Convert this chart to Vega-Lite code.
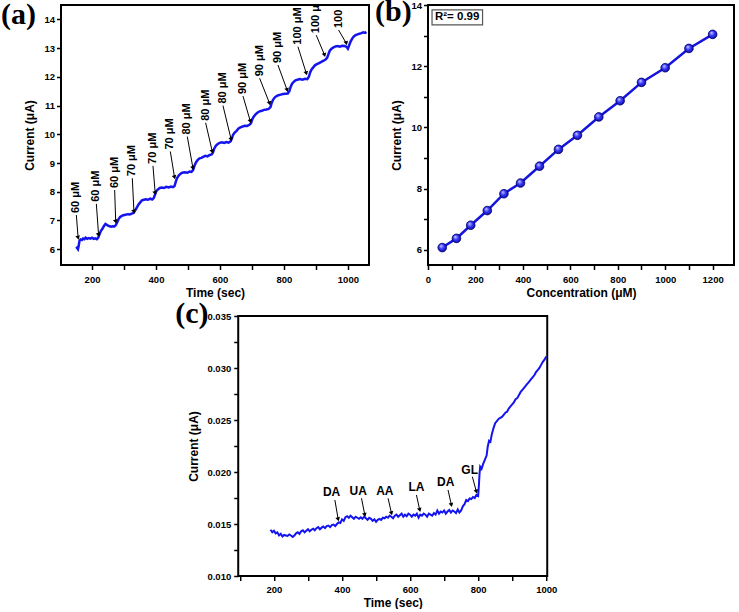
{
  "$schema": "https://vega.github.io/schema/vega-lite/v6.json",
  "padding": {"top": -5, "left": 0, "right": 0, "bottom": 0},
  "config": {
    "font": "Liberation Sans",
    "view": {"stroke": "black", "strokeWidth": 2},
    "axis": {"domain": false, "grid": false, "labelFont": "Liberation Sans", "labelFontSize": 9.5, "labelFontWeight": "bold", "labelColor": "black", "labelFlush": false, "labelOverlap": false, "titleFont": "Liberation Sans", "titleFontSize": 12, "titleFontWeight": "bold", "titleColor": "black", "tickColor": "black", "tickWidth": 1.5, "tickSize": 4.5},
    "axisX": {"labelPadding": 5, "titlePadding": 3},
    "axisY": {"labelPadding": 2, "titlePadding": 7},
    "title": {"font": "Liberation Serif", "fontSize": 30, "fontWeight": "bold", "color": "black", "anchor": "start", "frame": "group", "baseline": "top", "offset": 0}
  },
  "datasets": {
    "curveA": [
      {"t":150,"i":6.02},{"t":153,"i":6.05},{"t":156,"i":6.0},{"t":158,"i":6.1},{"t":161,"i":6.3},{"t":164,"i":6.34},{"t":168,"i":6.32},{"t":172,"i":6.37},{"t":176,"i":6.35},{"t":180,"i":6.4},{"t":185,"i":6.36},{"t":190,"i":6.39},{"t":195,"i":6.37},{"t":200,"i":6.4},{"t":205,"i":6.36},{"t":210,"i":6.38},{"t":215,"i":6.35},{"t":219,"i":6.4},
      {"t":223,"i":6.5},{"t":227,"i":6.62},{"t":232,"i":6.7},{"t":237,"i":6.8},{"t":242,"i":6.88},{"t":246,"i":6.85},{"t":250,"i":6.82},{"t":255,"i":6.8},{"t":260,"i":6.78},{"t":265,"i":6.8},{"t":270,"i":6.79},{"t":274,"i":6.83},
      {"t":278,"i":6.92},{"t":283,"i":7.05},{"t":288,"i":7.12},{"t":293,"i":7.16},{"t":298,"i":7.18},{"t":305,"i":7.2},{"t":312,"i":7.22},{"t":318,"i":7.21},{"t":324,"i":7.24},{"t":330,"i":7.26},
      {"t":335,"i":7.35},{"t":340,"i":7.45},{"t":345,"i":7.55},{"t":350,"i":7.62},{"t":356,"i":7.7},{"t":362,"i":7.72},{"t":368,"i":7.74},{"t":375,"i":7.72},{"t":382,"i":7.76},{"t":388,"i":7.73},{"t":393,"i":7.78},
      {"t":397,"i":7.9},{"t":401,"i":8.02},{"t":406,"i":8.08},{"t":412,"i":8.13},{"t":418,"i":8.15},{"t":425,"i":8.13},{"t":432,"i":8.17},{"t":440,"i":8.15},{"t":447,"i":8.18},{"t":453,"i":8.16},{"t":458,"i":8.2},
      {"t":462,"i":8.35},{"t":466,"i":8.48},{"t":471,"i":8.56},{"t":476,"i":8.62},{"t":482,"i":8.66},{"t":490,"i":8.68},{"t":498,"i":8.66},{"t":505,"i":8.7},{"t":511,"i":8.69},{"t":516,"i":8.75},
      {"t":520,"i":8.9},{"t":525,"i":9.02},{"t":530,"i":9.1},{"t":536,"i":9.16},{"t":542,"i":9.18},{"t":549,"i":9.22},{"t":555,"i":9.25},{"t":561,"i":9.23},{"t":568,"i":9.28},{"t":574,"i":9.3},
      {"t":578,"i":9.36},{"t":582,"i":9.5},{"t":587,"i":9.6},{"t":593,"i":9.66},{"t":599,"i":9.7},{"t":606,"i":9.72},{"t":613,"i":9.7},{"t":620,"i":9.73},{"t":627,"i":9.71},{"t":633,"i":9.75},
      {"t":637,"i":9.85},{"t":641,"i":9.98},{"t":646,"i":10.06},{"t":652,"i":10.12},{"t":658,"i":10.2},{"t":664,"i":10.24},{"t":671,"i":10.27},{"t":678,"i":10.3},{"t":685,"i":10.29},{"t":692,"i":10.33},
      {"t":697,"i":10.38},{"t":701,"i":10.52},{"t":706,"i":10.62},{"t":712,"i":10.7},{"t":718,"i":10.76},{"t":724,"i":10.8},{"t":731,"i":10.82},{"t":738,"i":10.85},{"t":745,"i":10.86},{"t":752,"i":10.88},
      {"t":758,"i":10.95},{"t":762,"i":11.1},{"t":766,"i":11.2},{"t":771,"i":11.28},{"t":777,"i":11.33},{"t":783,"i":11.36},{"t":790,"i":11.38},{"t":797,"i":11.4},{"t":805,"i":11.41},{"t":812,"i":11.42},
      {"t":817,"i":11.5},{"t":821,"i":11.65},{"t":825,"i":11.75},{"t":830,"i":11.82},{"t":836,"i":11.88},{"t":842,"i":11.9},{"t":850,"i":11.92},{"t":858,"i":11.9},{"t":866,"i":11.93},{"t":873,"i":11.92},
      {"t":878,"i":12.0},{"t":882,"i":12.15},{"t":886,"i":12.25},{"t":891,"i":12.32},{"t":897,"i":12.4},{"t":903,"i":12.44},{"t":910,"i":12.48},{"t":917,"i":12.52},{"t":924,"i":12.56},{"t":930,"i":12.6},
      {"t":935,"i":12.66},{"t":939,"i":12.78},{"t":943,"i":12.9},{"t":948,"i":12.97},{"t":954,"i":13.02},{"t":961,"i":13.06},{"t":968,"i":13.07},{"t":975,"i":13.05},{"t":982,"i":13.08},{"t":990,"i":13.07},{"t":996,"i":13.04},
      {"t":1000,"i":12.98},{"t":1004,"i":13.1},{"t":1008,"i":13.22},{"t":1013,"i":13.32},{"t":1018,"i":13.4},{"t":1024,"i":13.45},{"t":1030,"i":13.48},{"t":1036,"i":13.5},{"t":1042,"i":13.52},{"t":1048,"i":13.55},{"t":1054,"i":13.53},{"t":1058,"i":13.56}
    ],
    "arrowsA": [
      {"t0":151,"v0":7.19,"t1":156.5,"v1":6.4,"label":"60 μM"},
      {"t0":213.5,"v0":7.58,"t1":220.5,"v1":6.5,"label":"60 μM"},
      {"t0":270.8,"v0":8.06,"t1":274,"v1":6.96,"label":"60 μM"},
      {"t0":326,"v0":8.47,"t1":331,"v1":7.31,"label":"70 μM"},
      {"t0":390.6,"v0":8.9,"t1":397.5,"v1":7.95,"label":"70 μM"},
      {"t0":444.8,"v0":9.4,"t1":458,"v1":8.5,"label":"70 μM"},
      {"t0":497.9,"v0":9.92,"t1":515.6,"v1":8.82,"label":"80 μM"},
      {"t0":555.2,"v0":10.4,"t1":576,"v1":9.4,"label":"80 μM"},
      {"t0":609.4,"v0":11.0,"t1":635,"v1":9.82,"label":"80 μM"},
      {"t0":672,"v0":11.33,"t1":695,"v1":10.45,"label":"90 μM"},
      {"t0":724,"v0":11.95,"t1":755,"v1":11.08,"label":"90 μM"},
      {"t0":781.3,"v0":12.41,"t1":810,"v1":11.54,"label":"90 μM"},
      {"t0":843.8,"v0":13.05,"t1":870,"v1":12.12,"label":"100 μM"},
      {"t0":901,"v0":13.45,"t1":927,"v1":12.76,"label":"100 μM"},
      {"t0":970.8,"v0":13.63,"t1":995,"v1":13.17,"label":"100 μM"}
    ],
    "calib": [
      {"c":60,"i":6.07},{"c":120,"i":6.37},{"c":180,"i":6.8},{"c":250,"i":7.28},{"c":320,"i":7.83},{"c":390,"i":8.18},{"c":470,"i":8.73},{"c":550,"i":9.28},{"c":630,"i":9.74},{"c":720,"i":10.34},{"c":810,"i":10.87},{"c":900,"i":11.47},{"c":1000,"i":11.95},{"c":1100,"i":12.58},{"c":1200,"i":13.04}
    ],
    "r2": [{"x1":17,"x2":230,"y1":13.35,"y2":13.84,"xm":123,"ym":13.6,"label":"R²= 0.99"}],
    "curveC": [
      {"t":190,"i":0.01445},{"t":195,"i":0.0142},{"t":200,"i":0.01435},{"t":205,"i":0.0141},{"t":210,"i":0.0142},{"t":215,"i":0.0139},{"t":220,"i":0.01405},{"t":225,"i":0.0138},{"t":230,"i":0.01395},{"t":235,"i":0.0139},{"t":240,"i":0.01385},{"t":245,"i":0.014},{"t":250,"i":0.0139},{"t":255,"i":0.01375},{"t":260,"i":0.0139},{"t":265,"i":0.0141},{"t":270,"i":0.0142},{"t":275,"i":0.01405},{"t":280,"i":0.0143},{"t":285,"i":0.0144},{"t":290,"i":0.0142},{"t":295,"i":0.01435},{"t":300,"i":0.0145},{"t":305,"i":0.0143},{"t":310,"i":0.01445},{"t":315,"i":0.01455},{"t":320,"i":0.0144},{"t":325,"i":0.0146},{"t":330,"i":0.0147},{"t":335,"i":0.0145},{"t":340,"i":0.01465},{"t":345,"i":0.01475},{"t":350,"i":0.0146},{"t":355,"i":0.0148},{"t":360,"i":0.01485},{"t":365,"i":0.0147},{"t":370,"i":0.0149},{"t":375,"i":0.01495},{"t":380,"i":0.0148},{"t":385,"i":0.015},{"t":390,"i":0.01515},{"t":395,"i":0.0151},{"t":400,"i":0.01545},{"t":405,"i":0.0153},{"t":410,"i":0.01565},{"t":415,"i":0.01575},{"t":420,"i":0.0156},{"t":425,"i":0.0158},{"t":430,"i":0.01565},{"t":435,"i":0.0155},{"t":440,"i":0.0157},{"t":445,"i":0.0156},{"t":450,"i":0.0155},{"t":455,"i":0.01565},{"t":460,"i":0.0155},{"t":465,"i":0.0157},{"t":470,"i":0.01555},{"t":475,"i":0.0154},{"t":480,"i":0.0156},{"t":485,"i":0.0155},{"t":490,"i":0.0153},{"t":495,"i":0.01545},{"t":500,"i":0.0152},{"t":505,"i":0.0154},{"t":510,"i":0.0155},{"t":515,"i":0.0154},{"t":520,"i":0.0156},{"t":525,"i":0.01555},{"t":530,"i":0.0157},{"t":535,"i":0.0156},{"t":540,"i":0.0158},{"t":545,"i":0.0157},{"t":550,"i":0.01555},{"t":555,"i":0.0158},{"t":560,"i":0.0159},{"t":565,"i":0.0157},{"t":570,"i":0.01585},{"t":575,"i":0.016},{"t":580,"i":0.0157},{"t":585,"i":0.0159},{"t":590,"i":0.01575},{"t":595,"i":0.016},{"t":600,"i":0.0159},{"t":605,"i":0.0157},{"t":610,"i":0.0159},{"t":615,"i":0.0158},{"t":620,"i":0.016},{"t":625,"i":0.0156},{"t":630,"i":0.0159},{"t":635,"i":0.0158},{"t":640,"i":0.016},{"t":645,"i":0.0159},{"t":650,"i":0.0157},{"t":655,"i":0.016},{"t":660,"i":0.0159},{"t":665,"i":0.0158},{"t":670,"i":0.01605},{"t":675,"i":0.0159},{"t":680,"i":0.0163},{"t":685,"i":0.016},{"t":690,"i":0.0162},{"t":695,"i":0.0161},{"t":700,"i":0.0163},{"t":705,"i":0.016},{"t":710,"i":0.0162},{"t":715,"i":0.01635},{"t":720,"i":0.0161},{"t":725,"i":0.0163},{"t":730,"i":0.0162},{"t":735,"i":0.01605},{"t":740,"i":0.0164},{"t":745,"i":0.0161},{"t":750,"i":0.0163},{"t":755,"i":0.0167},{"t":760,"i":0.0169},{"t":765,"i":0.0173},{"t":770,"i":0.0172},{"t":775,"i":0.01745},{"t":780,"i":0.0174},{"t":785,"i":0.0176},{"t":790,"i":0.0175},{"t":795,"i":0.0178},{"t":800,"i":0.0177},{"t":802,"i":0.0186},{"t":804,"i":0.0198},{"t":806,"i":0.0205},{"t":810,"i":0.0203},{"t":815,"i":0.0208},{"t":820,"i":0.0212},{"t":825,"i":0.0216},{"t":828,"i":0.0224},{"t":832,"i":0.023},{"t":836,"i":0.0229},{"t":840,"i":0.0236},{"t":845,"i":0.0242},{"t":850,"i":0.0247},{"t":855,"i":0.0249},{"t":860,"i":0.0251},{"t":865,"i":0.0252},{"t":870,"i":0.0253},{"t":875,"i":0.0255},{"t":880,"i":0.0257},{"t":885,"i":0.0258},{"t":890,"i":0.0261},{"t":895,"i":0.0263},{"t":900,"i":0.0265},{"t":905,"i":0.0267},{"t":910,"i":0.027},{"t":915,"i":0.0271},{"t":920,"i":0.0274},{"t":925,"i":0.0277},{"t":930,"i":0.0279},{"t":935,"i":0.0281},{"t":940,"i":0.0283},{"t":945,"i":0.0285},{"t":950,"i":0.0287},{"t":955,"i":0.0289},{"t":960,"i":0.0291},{"t":965,"i":0.0293},{"t":970,"i":0.0296},{"t":975,"i":0.0298},{"t":980,"i":0.03},{"t":985,"i":0.0303},{"t":990,"i":0.0306},{"t":995,"i":0.0308},{"t":1000,"i":0.0311}
    ],
    "arrowsC": [
      {"tx":369.3,"ty":0.01805,"t0":379,"v0":0.01731,"t1":388.7,"v1":0.01545,"label":"DA"},
      {"tx":447.4,"ty":0.01821,"t0":457.3,"v0":0.01747,"t1":467,"v1":0.01587,"label":"UA"},
      {"tx":525.7,"ty":0.01821,"t0":535.4,"v0":0.01747,"t1":545.4,"v1":0.01603,"label":"AA"},
      {"tx":618.7,"ty":0.01859,"t0":618.7,"v0":0.01779,"t1":628.4,"v1":0.01635,"label":"LA"},
      {"tx":704.7,"ty":0.01907,"t0":711.5,"v0":0.01827,"t1":721.4,"v1":0.01683,"label":"DA"},
      {"tx":775.1,"ty":0.02019,"t0":783,"v0":0.01955,"t1":794.8,"v1":0.01811,"label":"GL"}
    ]
  },
  "vconcat": [
    {
      "hconcat": [
        {
          "width": 308, "height": 260,
          "title": {"text": "(a)", "dx": -60, "dy": 29},
          "layer": [
            {
              "data": {"name": "curveA"},
              "mark": {"type": "line", "color": "#1414ee", "strokeWidth": 2.5},
              "encoding": {
                "x": {"field": "t", "type": "quantitative", "scale": {"domain": [103, 1066], "nice": false, "zero": false}, "axis": {"title": "Time (sec)", "values": [200,300,400,500,600,700,800,900,1000], "format": "d", "labelOverlap": false, "labelExpr": "datum.value % 200 == 0 ? datum.label : ''"}},
                "y": {"field": "i", "type": "quantitative", "scale": {"domain": [5.45, 14.5], "nice": false, "zero": false}, "axis": {"title": "Current (μA)", "values": [6,7,8,9,10,11,12,13,14], "format": "d", "labelOverlap": false}}
              }
            },
            {
              "data": {"name": "arrowsA"},
              "mark": {"type": "rule", "color": "black", "strokeWidth": 1},
              "encoding": {
                "x": {"field": "t0", "type": "quantitative", "axis": {"title": "Time (sec)", "values": [200,300,400,500,600,700,800,900,1000], "format": "d", "labelOverlap": false, "labelExpr": "datum.value % 200 == 0 ? datum.label : ''"}},
                "y": {"field": "v0", "type": "quantitative", "axis": {"title": "Current (μA)", "values": [6,7,8,9,10,11,12,13,14], "format": "d", "labelOverlap": false}},
                "x2": {"field": "t1"}, "y2": {"field": "v1"}
              }
            },
            {
              "data": {"name": "arrowsA"},
              "mark": {"type": "point", "shape": "triangle-down", "filled": true, "color": "black", "size": 22, "angle": 345, "opacity": 1},
              "encoding": {
                "x": {"field": "t1", "type": "quantitative", "axis": {"title": "Time (sec)", "values": [200,300,400,500,600,700,800,900,1000], "format": "d", "labelOverlap": false, "labelExpr": "datum.value % 200 == 0 ? datum.label : ''"}},
                "y": {"field": "v1", "type": "quantitative", "axis": {"title": "Current (μA)", "values": [6,7,8,9,10,11,12,13,14], "format": "d", "labelOverlap": false}}
              }
            },
            {
              "data": {"name": "arrowsA"},
              "mark": {"type": "text", "angle": 270, "align": "left", "baseline": "middle", "dx": 2, "fontSize": 11, "fontWeight": "bold", "font": "Liberation Sans", "color": "black", "clip": true},
              "encoding": {
                "x": {"field": "t0", "type": "quantitative", "axis": {"title": "Time (sec)", "values": [200,300,400,500,600,700,800,900,1000], "format": "d", "labelOverlap": false, "labelExpr": "datum.value % 200 == 0 ? datum.label : ''"}},
                "y": {"field": "v0", "type": "quantitative", "axis": {"title": "Current (μA)", "values": [6,7,8,9,10,11,12,13,14], "format": "d", "labelOverlap": false}},
                "text": {"field": "label"}
              }
            }
          ]
        },
        {
          "width": 306, "height": 260,
          "title": {"text": "(b)", "dx": -53, "dy": 30.5},
          "layer": [
            {
              "data": {"name": "calib"},
              "mark": {"type": "line", "color": "#1414dd", "strokeWidth": 2.5},
              "encoding": {
                "x": {"field": "c", "type": "quantitative", "scale": {"domain": [0, 1290], "nice": false}, "axis": {"title": "Concentration (μM)", "values": [0,100,200,300,400,500,600,700,800,900,1000,1100,1200], "format": "d", "labelOverlap": false, "labelExpr": "datum.value % 200 == 0 ? datum.label : ''"}},
                "y": {"field": "i", "type": "quantitative", "scale": {"domain": [5.5, 14], "nice": false, "zero": false}, "axis": {"title": "Current (μA)", "values": [6,7,8,9,10,11,12,13,14], "format": "d", "labelOverlap": false, "labelExpr": "datum.value % 2 == 0 ? datum.label : ''"}}
              }
            },
            {
              "data": {"name": "r2"},
              "mark": {"type": "rect", "fill": "white", "stroke": "#555555", "strokeWidth": 1.2},
              "encoding": {
                "x": {"field": "x1", "type": "quantitative", "axis": {"title": "Concentration (μM)", "values": [0,100,200,300,400,500,600,700,800,900,1000,1100,1200], "format": "d", "labelOverlap": false, "labelExpr": "datum.value % 200 == 0 ? datum.label : ''"}},
                "x2": {"field": "x2"},
                "y": {"field": "y1", "type": "quantitative", "axis": {"title": "Current (μA)", "values": [6,7,8,9,10,11,12,13,14], "format": "d", "labelOverlap": false, "labelExpr": "datum.value % 2 == 0 ? datum.label : ''"}},
                "y2": {"field": "y2"}
              }
            },
            {
              "data": {"name": "r2"},
              "mark": {"type": "text", "fontSize": 11.5, "fontWeight": "bold", "font": "Liberation Sans", "color": "black", "align": "center", "baseline": "middle"},
              "encoding": {
                "x": {"field": "xm", "type": "quantitative", "axis": {"title": "Concentration (μM)", "values": [0,100,200,300,400,500,600,700,800,900,1000,1100,1200], "format": "d", "labelOverlap": false, "labelExpr": "datum.value % 200 == 0 ? datum.label : ''"}},
                "y": {"field": "ym", "type": "quantitative", "axis": {"title": "Current (μA)", "values": [6,7,8,9,10,11,12,13,14], "format": "d", "labelOverlap": false, "labelExpr": "datum.value % 2 == 0 ? datum.label : ''"}},
                "text": {"field": "label"}
              }
            },
            {
              "data": {"name": "calib"},
              "mark": {"type": "point", "shape": "circle", "size": 75, "opacity": 1, "strokeWidth": 0.8, "stroke": "#00006a", "fill": {"gradient": "radial", "x1": 0.35, "y1": 0.3, "r1": 0, "x2": 0.5, "y2": 0.5, "r2": 0.6, "stops": [{"offset": 0, "color": "#d8d8ff"}, {"offset": 0.45, "color": "#3a3aff"}, {"offset": 1, "color": "#00008a"}]}},
              "encoding": {
                "x": {"field": "c", "type": "quantitative", "axis": {"title": "Concentration (μM)", "values": [0,100,200,300,400,500,600,700,800,900,1000,1100,1200], "format": "d", "labelOverlap": false, "labelExpr": "datum.value % 200 == 0 ? datum.label : ''"}},
                "y": {"field": "i", "type": "quantitative", "axis": {"title": "Current (μA)", "values": [6,7,8,9,10,11,12,13,14], "format": "d", "labelOverlap": false, "labelExpr": "datum.value % 2 == 0 ? datum.label : ''"}}
              }
            }
          ]
        }
      ],
      "spacing": 59,
      "bounds": "flush"
    },
    {
      "width": 309, "height": 260,
      "title": {"text": "(c)", "dx": -63, "dy": 22},
      "resolve": {"axis": {"y": "independent"}},
      "layer": [
        {
          "data": {"name": "curveC"},
          "mark": {"type": "line", "color": "#1414ee", "strokeWidth": 2},
          "encoding": {
            "x": {"field": "t", "type": "quantitative", "scale": {"domain": [95, 1003], "nice": false, "zero": false}, "axis": {"title": "Time (sec)", "values": [100,200,300,400,500,600,700,800,900,1000], "format": "d", "labelOverlap": false, "labelExpr": "datum.value % 200 == 0 ? datum.label : ''", "labelPadding": 4}},
            "y": {"field": "i", "type": "quantitative", "scale": {"domain": [0.01, 0.035], "nice": false, "zero": false}, "axis": {"orient": "left", "title": "Current (μA)", "values": [0.01,0.0125,0.015,0.0175,0.02,0.0225,0.025,0.0275,0.03,0.0325,0.035], "labelOverlap": false, "labelExpr": "abs(datum.value*200 - round(datum.value*200)) < 0.01 ? format(datum.value, '.3f') : ''", "labelPadding": 3, "titlePadding": 6}}
          }
        },
        {
          "data": {"name": "arrowsC"},
          "mark": {"type": "rule", "color": "black", "strokeWidth": 1},
          "encoding": {
            "x": {"field": "t0", "type": "quantitative", "axis": {"title": "Time (sec)", "values": [100,200,300,400,500,600,700,800,900,1000], "format": "d", "labelOverlap": false, "labelExpr": "datum.value % 200 == 0 ? datum.label : ''", "labelPadding": 4}},
            "y": {"field": "v0", "type": "quantitative", "axis": null},
            "x2": {"field": "t1"}, "y2": {"field": "v1"}
          }
        },
        {
          "data": {"name": "arrowsC"},
          "mark": {"type": "point", "shape": "triangle-down", "filled": true, "color": "black", "size": 22, "angle": 345, "opacity": 1},
          "encoding": {
            "x": {"field": "t1", "type": "quantitative", "axis": {"title": "Time (sec)", "values": [100,200,300,400,500,600,700,800,900,1000], "format": "d", "labelOverlap": false, "labelExpr": "datum.value % 200 == 0 ? datum.label : ''", "labelPadding": 4}},
            "y": {"field": "v1", "type": "quantitative", "axis": null}
          }
        },
        {
          "data": {"name": "arrowsC"},
          "mark": {"type": "text", "align": "center", "baseline": "middle", "fontSize": 12, "fontWeight": "bold", "font": "Liberation Sans", "color": "black"},
          "encoding": {
            "x": {"field": "tx", "type": "quantitative", "axis": {"title": "Time (sec)", "values": [100,200,300,400,500,600,700,800,900,1000], "format": "d", "labelOverlap": false, "labelExpr": "datum.value % 200 == 0 ? datum.label : ''", "labelPadding": 4}},
            "y": {"field": "ty", "type": "quantitative", "axis": {"orient": "left", "title": "\u00a0", "labels": false, "ticks": false, "domain": false, "titlePadding": 60}},
            "text": {"field": "label"}
          }
        }
      ]
    }
  ],
  "spacing": -1,
  "center": true
}
